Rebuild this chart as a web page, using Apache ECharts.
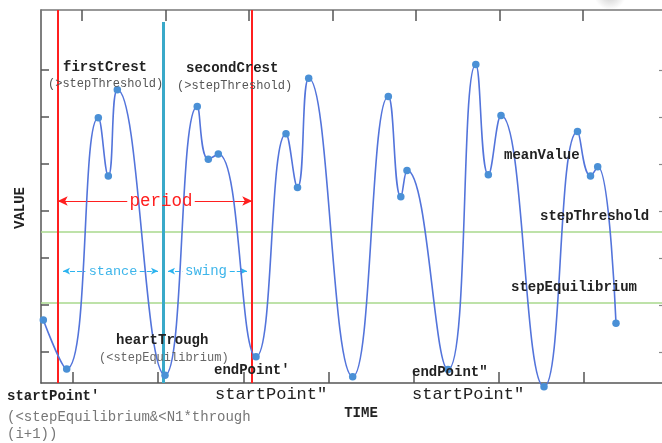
<!DOCTYPE html>
<html>
<head>
<meta charset="utf-8">
<script src="https://cdn.jsdelivr.net/npm/echarts@6/dist/echarts.min.js"></script>
<style>
html,body{margin:0;padding:0;background:#fff;}
#chart{width:662px;height:443px;}
</style>
</head>
<body>
<div id="chart"></div>
<script>
// ---- data (TIME, VALUE) of the gait signal ----
const times  = [0.37, 4.11, 9.17, 10.77, 12.21, 19.84, 25.0, 26.77, 28.37, 34.4, 39.2, 41.04, 42.83,
                49.87, 55.57, 57.57, 58.56, 65.12, 69.57, 71.57, 73.6, 80.48, 85.84, 87.92, 89.07, 92.0];
const values = [16.9, 3.75, 71.1, 55.5, 78.6, 2.1, 74.1, 60.0, 61.4, 7.05, 66.8, 52.4, 81.7,
                1.7, 76.8, 49.9, 57.0, 3.6, 85.4, 55.8, 71.7, -1.0, 67.4, 55.5, 58.0, 16.0];

// reference levels
const stepThreshold = 40.6;
const stepEquilibrium = 21.6;
// event times
const startPointTime = 2.67;
const heartTroughTime = 19.57;
const endPointTime = 33.8;
const heartTroughTop = 96.8;
// phase spans (arrow ends and gaps left for the labels)
const periodLevel = 48.8;
const phaseLevel = 30.0;
const periodGap = [13.8, 24.6];
const stanceSpan = [3.52, 18.72];
const stanceGap = [7.1, 15.8];
const swingSpan = [20.32, 32.96];
const swingGap = [22.6, 30.2];

const chart = echarts.init(document.getElementById('chart'));

const mono = 'Liberation Mono, DejaVu Sans Mono, monospace';
function txt(x, y, s, opt) {
  opt = opt || {};
  return {
    type: 'text', x: x, y: y, z: 100,
    rotation: opt.rotation || 0,
    style: {
      text: s,
      fill: opt.color || '#222',
      font: (opt.weight || 'bold') + ' ' + (opt.size || 14) + 'px ' + (opt.family || mono),
      textAlign: opt.align || 'left',
      textVerticalAlign: 'middle'
    }
  };
}

function ax(extra) {
  const base = {type:'value', axisLabel:{show:false}, splitLine:{show:false}, axisTick:{show:false}};
  const o = Object.assign(base, extra);
  o.axisLine = Object.assign({show:false, onZero:false}, extra.axisLine || {});
  return o;
}
const tickStyle = {show:true, inside:true, length:11, lineStyle:{color:'#555', width:1.5}};
const G = (l, r, t, b) => ({left:l, right:r, top:t, bottom:b, outerBoundsMode:'none', containLabel:false});

function arrowPair(a, b, gap, level, color, w, type, size) {
  const ls = {color:color, width:w, type:type};
  return [
    [{coord:[a, level], symbol:'arrow', symbolSize:size, lineStyle:ls},
     {coord:[gap[0], level], symbol:'none'}],
    [{coord:[gap[1], level], symbol:'none', lineStyle:ls},
     {coord:[b, level], symbol:'arrow', symbolSize:size}]
  ];
}

const option = {
  animation: false,
  backgroundColor: '#fff',
  grid: [
    G(41, -4, 10, 60),    // main
    G(82, 79, 10, 60),    // top ticks
    G(73, 78, 10, 60),    // bottom ticks
    G(41, -5, 70, 91)     // y ticks
  ],
  xAxis: [
    ax({gridIndex:0, min:0, max:100, position:'bottom',
      axisLine:{show:true, lineStyle:{color:'#555', width:1.5}}}),
    ax({gridIndex:0, min:0, max:100, position:'top',
      axisLine:{show:true, lineStyle:{color:'#777', width:1.5}}}),
    ax({gridIndex:1, min:0, max:6, interval:1, position:'top', axisTick: tickStyle}),
    ax({gridIndex:2, min:0, max:6, interval:1, position:'bottom', axisTick: tickStyle}),
    ax({gridIndex:3, min:0, max:1})
  ],
  yAxis: [
    ax({gridIndex:0, min:0, max:100, position:'left',
      axisLine:{show:true, lineStyle:{color:'#555', width:1.5}}}),
    ax({gridIndex:1, min:0, max:1}),
    ax({gridIndex:2, min:0, max:1}),
    ax({gridIndex:3, min:0, max:6, interval:1, position:'left',
      axisTick: {show:true, inside:true, length:8, lineStyle:{color:'#555', width:1.5}}}),
    ax({gridIndex:3, min:0, max:6, interval:1, position:'right',
      axisTick: {show:true, inside:true, length:8, lineStyle:{color:'#888', width:1.2}}})
  ],
  series: [
    {
      type: 'line', xAxisIndex: 0, yAxisIndex: 0, data: [[-10, -10]], symbol:'none', silent: true,
      lineStyle:{opacity:0},
      markLine: {
        silent: true, symbol: 'none', label: {show:false}, animation: false,
        data: [
          {yAxis: stepThreshold, lineStyle:{color:'#a9d98c', width:1.5, type:'solid'}},
          {yAxis: stepEquilibrium, lineStyle:{color:'#a9d98c', width:1.5, type:'solid'}},
          {xAxis: startPointTime, lineStyle:{color:'#ff1f1f', width:2, type:'solid'}},
          {xAxis: endPointTime, lineStyle:{color:'#ff1f1f', width:2, type:'solid'}}
        ]
      }
    },
    {
      type: 'line', xAxisIndex: 0, yAxisIndex: 0, data: [[-10, -10]], symbol:'none', silent: true,
      lineStyle:{opacity:0},
      markLine: {
        silent: true, label:{show:false}, animation:false, symbol:'none',
        data: [].concat(
          arrowPair(startPointTime, endPointTime, periodGap, periodLevel, '#ff1f1f', 1.2, 'solid', [7, 10]),
          arrowPair(stanceSpan[0], stanceSpan[1], stanceGap, phaseLevel, '#2db4ef', 1.2, [5, 2], [5, 7]),
          arrowPair(swingSpan[0], swingSpan[1], swingGap, phaseLevel, '#2db4ef', 1.2, [5, 2], [5, 7])
        )
      }
    },
    {
      type: 'line', xAxisIndex: 0, yAxisIndex: 0, data: [[-10, -10]], symbol:'none', silent: true,
      lineStyle:{opacity:0}, z: 3,
      markLine: {
        silent: true, symbol: 'none', label: {show:false}, animation: false,
        data: [
          [{coord:[heartTroughTime, heartTroughTop], lineStyle:{color:'#39a9c9', width:3, type:'solid'}},
           {coord:[heartTroughTime, 0]}]
        ]
      }
    },
    {
      type: 'line', xAxisIndex: 0, yAxisIndex: 0, clip: false, z: 5,
      smooth: 0.5,
      data: times.map((t, i) => [t, values[i]]),
      symbol: 'circle', symbolSize: 7.5,
      lineStyle: {color:'#5374db', width:1.6},
      itemStyle: {color:'#4a90d6'}
    }
  ],
  graphic: [
    {
      type: 'ellipse', z: -1, silent: true,
      shape: {cx: 610, cy: -6, rx: 90, ry: 16},
      style: {fill: new echarts.graphic.RadialGradient(0.5, 0.5, 0.5, [
        {offset: 0, color: 'rgba(140,140,140,0.45)'},
        {offset: 1, color: 'rgba(140,140,140,0)'}
      ])}
    },
    txt(63, 67, 'firstCrest'),
    txt(48, 84, '(>stepThreshold)', {weight:'normal', size:12, color:'#555'}),
    txt(186, 68, 'secondCrest'),
    txt(177, 86, '(>stepThreshold)', {weight:'normal', size:12, color:'#555'}),
    txt(161, 201, 'period', {weight:'normal', size:17.5, color:'#ff1f1f', align:'center'}),
    txt(113, 271, 'stance', {weight:'normal', size:13.5, color:'#3db5ea', align:'center'}),
    txt(206, 271, 'swing', {weight:'normal', size:14, color:'#3db5ea', align:'center'}),
    txt(504, 155, 'meanValue'),
    txt(540, 216, 'stepThreshold'),
    txt(511, 287, 'stepEquilibrium'),
    txt(116, 340, 'heartTrough'),
    txt(99, 358, '(<stepEquilibrium)', {weight:'normal', size:12, color:'#666'}),
    txt(214, 370, 'endPoint′'),
    txt(215, 394, 'startPoint″', {weight:'normal', size:17}),
    txt(412, 372, 'endPoint″'),
    txt(412, 394, 'startPoint″', {weight:'normal', size:17}),
    txt(7, 396, 'startPoint′'),
    txt(7, 417, '(<stepEquilibrium&<N1*through', {weight:'normal', size:14, color:'#777'}),
    txt(7, 434, '(i+1))', {weight:'normal', size:14, color:'#777'}),
    txt(361, 413, 'TIME', {size:14, align:'center'}),
    txt(20, 208, 'VALUE', {size:14, align:'center', rotation: Math.PI/2})
  ]
};
chart.setOption(option);
</script>
</body>
</html>
